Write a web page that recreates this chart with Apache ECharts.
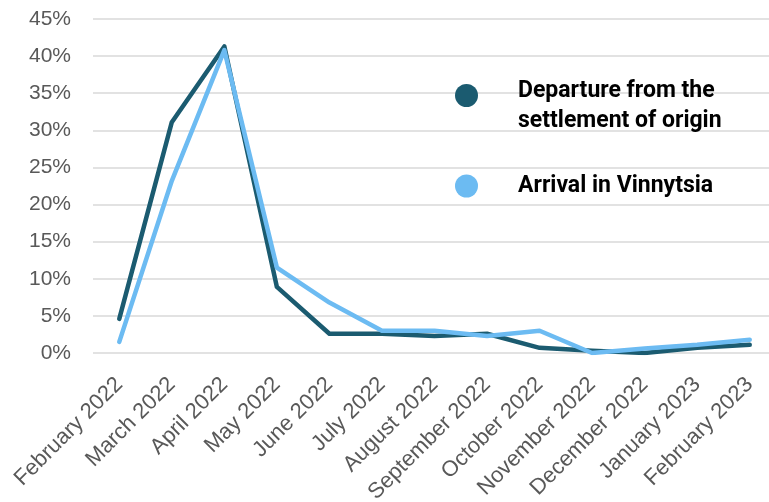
<!DOCTYPE html>
<html>
<head>
<meta charset="utf-8">
<script src="https://cdn.jsdelivr.net/npm/echarts@6/dist/echarts.min.js"></script>
<style>
  html, body { margin: 0; padding: 0; background: #fff; }
</style>
</head>
<body>
<div id="main" style="width: 769px;height:502px;"></div>
<script>
// months on the x axis
var months = ['February 2022', 'March 2022', 'April 2022', 'May 2022', 'June 2022', 'July 2022',
    'August 2022', 'September 2022', 'October 2022', 'November 2022', 'December 2022',
    'January 2023', 'February 2023'];

// share of respondents, %
var departure = [4.6, 31.1, 41.3, 8.9, 2.6, 2.6, 2.3, 2.6, 0.7, 0.3, 0.0, 0.7, 1.1];
var arrival = [1.5, 23.2, 40.8, 11.5, 6.8, 3.0, 3.0, 2.3, 3.0, 0.0, 0.6, 1.1, 1.8];

var seriesNames = ['Departure from the settlement of origin', 'Arrival in Vinnytsia'];

var myChart = echarts.init(document.getElementById('main'));

var legendFont = {
    fontFamily: 'Roboto',
    fontWeight: 'bold',
    fontSize: 23,
    color: '#000',
    lineHeight: 30
};

var option = {
    animation: false,
    grid: {
        left: 93,
        right: -7,
        top: 19,
        bottom: 149,
        outerBoundsMode: 'none'
    },
    legend: [{
        data: [seriesNames[0]],
        orient: 'vertical',
        left: 455,
        top: 55,
        padding: 0,
        icon: 'circle',
        itemWidth: 23,
        itemHeight: 23,
        // empty first line pushes the text down so line 1 sits level with the dot
        formatter: function () {
            return '{s| }\n{a|Departure from the}\n{a|settlement of origin}';
        },
        textStyle: {
            padding: [0, 0, 0, 35],
            rich: {
                s: { fontSize: 21, lineHeight: 21 },
                a: legendFont
            }
        }
    }, {
        data: [seriesNames[1]],
        orient: 'vertical',
        left: 455,
        top: 171,
        padding: 0,
        icon: 'circle',
        itemWidth: 23,
        itemHeight: 23,
        textStyle: Object.assign({ padding: [0, 0, 0, 35] }, legendFont)
    }],
    xAxis: {
        type: 'category',
        data: months,
        boundaryGap: true,
        axisLine: { show: false },
        axisTick: { show: false },
        axisLabel: {
            interval: 0,
            rotate: 45,
            margin: 28,
            padding: [14, 0, 0, 0],
            fontFamily: 'Liberation Sans',
            fontSize: 22,
            color: '#595959'
        }
    },
    yAxis: {
        type: 'value',
        min: 0,
        max: 45,
        interval: 5,
        axisLine: { show: false },
        axisTick: { show: false },
        axisLabel: {
            formatter: '{value}%',
            margin: 22,
            fontFamily: 'Liberation Sans',
            fontSize: 21,
            color: '#595959'
        },
        splitLine: {
            lineStyle: { color: '#d9d9d9', width: 1.5 }
        }
    },
    series: [{
        name: seriesNames[0],
        type: 'line',
        data: departure,
        symbol: 'none',
        color: '#1b5b70',
        lineStyle: { width: 4.5, cap: 'round', join: 'round' }
    }, {
        name: seriesNames[1],
        type: 'line',
        data: arrival,
        symbol: 'none',
        color: '#6cbbf2',
        lineStyle: { width: 4.5, cap: 'round', join: 'round' }
    }]
};
myChart.setOption(option);
</script>
</body>
</html>
